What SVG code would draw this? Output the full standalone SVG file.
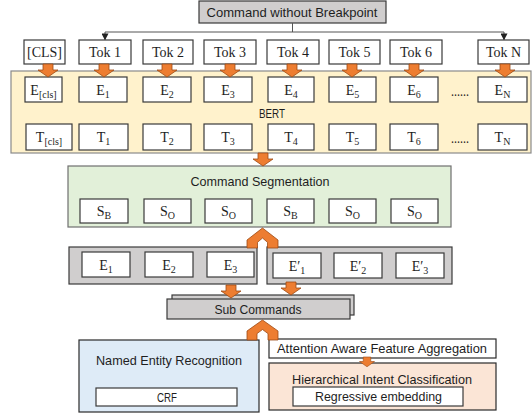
<svg xmlns="http://www.w3.org/2000/svg" xmlns:xlink="http://www.w3.org/1999/xlink" width="532" height="414" viewBox="0 0 532 414">
  <style>
    .sans { font-family: "Liberation Sans", Arial, sans-serif; font-size: 13.5px; fill: #1e1e1e; text-anchor: middle; }
    .serif { font-family: "Liberation Serif", "Times New Roman", serif; font-size: 14px; fill: #1e1e1e; text-anchor: middle; }
    .sub { font-size: 10px; }
    .tok { fill: #ffffff; stroke: #3a3a3a; stroke-width: 1.2; }
    .emb { fill: #ffffff; stroke: #3a3a3a; stroke-width: 1.2; }
    .grey { fill: #d0cece; stroke: #3a3a3a; stroke-width: 1.2; }
    .block { fill: #ed7d31; stroke: #9c4a14; stroke-width: 0.8; stroke-linejoin: miter; }
    .thin { fill: none; stroke: #555555; stroke-width: 1; }
  </style>
  <defs>
    <!-- downward block arrow, tip at (0,13) -->
    <path id="dArrow" d="M-5,0 H5 V6 H10 L0,13 L-10,6 H-5 Z"/>
    <marker id="tri" viewBox="0 0 8 8" refX="7" refY="4" markerWidth="7" markerHeight="7" orient="auto">
      <path d="M0,0 L8,4 L0,8 Z" fill="#222222"/>
    </marker>
  </defs>

  <!-- input command -->
  <g id="command">
    <rect x="199" y="1" width="187" height="22" fill="#d0cece" stroke="#3a3a3a" stroke-width="1.2"/>
    <text class="sans" x="292" y="16.5" textLength="171" lengthAdjust="spacingAndGlyphs">Command without Breakpoint</text>
  </g>

  <!-- BERT container -->
  <g id="bert">
    <rect x="11" y="71" width="520" height="82" fill="#fff2cc" stroke="#8a8a8a" stroke-width="1.2"/>
    <text class="sans" x="272" y="117.5" textLength="26" lengthAdjust="spacingAndGlyphs">BERT</text>
  </g>

  <!-- token row -->
  <g id="tokens">
    <g id="tok-cls"><rect class="tok" x="24" y="40" width="41" height="24"/><text class="serif" x="44.5" y="57">[CLS]</text></g>
    <g id="tok-1"><rect class="tok" x="79" y="40" width="52" height="24"/><text class="serif" x="105" y="57">Tok 1</text></g>
    <g id="tok-2"><rect class="tok" x="143" y="40" width="50" height="24"/><text class="serif" x="168" y="57">Tok 2</text></g>
    <g id="tok-3"><rect class="tok" x="204" y="40" width="52" height="24"/><text class="serif" x="230" y="57">Tok 3</text></g>
    <g id="tok-4"><rect class="tok" x="267" y="40" width="52" height="24"/><text class="serif" x="293" y="57">Tok 4</text></g>
    <g id="tok-5"><rect class="tok" x="329" y="40" width="51" height="24"/><text class="serif" x="354.5" y="57">Tok 5</text></g>
    <g id="tok-6"><rect class="tok" x="390" y="40" width="52" height="24"/><text class="serif" x="416" y="57">Tok 6</text></g>
    <g id="tok-n"><rect class="tok" x="478" y="40" width="51" height="24"/><text class="serif" x="503.5" y="57">Tok N</text></g>
  </g>

  <!-- input embeddings -->
  <g id="embeddings">
    <g id="e-cls"><rect class="emb" x="25" y="77" width="37" height="25"/><text class="serif" x="43.5" y="95">E<tspan class="sub" dy="3">[cls]</tspan></text></g>
    <g id="e-1"><rect class="emb" x="79" y="77" width="48" height="25"/><text class="serif" x="103" y="95">E<tspan class="sub" dy="3">1</tspan></text></g>
    <g id="e-2"><rect class="emb" x="143" y="77" width="48" height="25"/><text class="serif" x="167" y="95">E<tspan class="sub" dy="3">2</tspan></text></g>
    <g id="e-3"><rect class="emb" x="204" y="77" width="48" height="25"/><text class="serif" x="228" y="95">E<tspan class="sub" dy="3">3</tspan></text></g>
    <g id="e-4"><rect class="emb" x="268" y="77" width="46" height="25"/><text class="serif" x="291" y="95">E<tspan class="sub" dy="3">4</tspan></text></g>
    <g id="e-5"><rect class="emb" x="329" y="77" width="47" height="25"/><text class="serif" x="352.5" y="95">E<tspan class="sub" dy="3">5</tspan></text></g>
    <g id="e-6"><rect class="emb" x="390" y="77" width="48" height="25"/><text class="serif" x="414" y="95">E<tspan class="sub" dy="3">6</tspan></text></g>
    <text class="serif" x="460" y="96" textLength="18" lengthAdjust="spacingAndGlyphs">......</text>
    <g id="e-n"><rect class="emb" x="478" y="77" width="49" height="25"/><text class="serif" x="502.5" y="95">E<tspan class="sub" dy="3">N</tspan></text></g>
  </g>

  <!-- contextual outputs -->
  <g id="outputs">
    <g id="t-cls"><rect class="emb" x="26" y="124" width="46" height="26"/><text class="serif" x="49" y="142">T<tspan class="sub" dy="3">[cls]</tspan></text></g>
    <g id="t-1"><rect class="emb" x="79" y="124" width="49" height="26"/><text class="serif" x="103.5" y="142">T<tspan class="sub" dy="3">1</tspan></text></g>
    <g id="t-2"><rect class="emb" x="143" y="124" width="48" height="26"/><text class="serif" x="167" y="142">T<tspan class="sub" dy="3">2</tspan></text></g>
    <g id="t-3"><rect class="emb" x="204" y="124" width="48" height="26"/><text class="serif" x="228" y="142">T<tspan class="sub" dy="3">3</tspan></text></g>
    <g id="t-4"><rect class="emb" x="268" y="124" width="46" height="26"/><text class="serif" x="291" y="142">T<tspan class="sub" dy="3">4</tspan></text></g>
    <g id="t-5"><rect class="emb" x="329" y="124" width="47" height="26"/><text class="serif" x="352.5" y="142">T<tspan class="sub" dy="3">5</tspan></text></g>
    <g id="t-6"><rect class="emb" x="390" y="124" width="48" height="26"/><text class="serif" x="414" y="142">T<tspan class="sub" dy="3">6</tspan></text></g>
    <text class="serif" x="460" y="143" textLength="18" lengthAdjust="spacingAndGlyphs">......</text>
    <g id="t-n"><rect class="emb" x="478" y="124" width="49" height="26"/><text class="serif" x="502.5" y="142">T<tspan class="sub" dy="3">N</tspan></text></g>
  </g>

  <!-- segmentation -->
  <g id="segmentation">
    <rect x="68" y="166" width="383" height="61" fill="#e2f0d9" stroke="#6f6f6f" stroke-width="1.2"/>
    <text class="sans" x="260" y="185.5" textLength="139" lengthAdjust="spacingAndGlyphs">Command Segmentation</text>
    <g id="s-1"><rect class="emb" x="80" y="199" width="48" height="24"/><text class="serif" x="104" y="216">S<tspan class="sub" dy="3">B</tspan></text></g>
    <g id="s-2"><rect class="emb" x="144" y="199" width="47" height="24"/><text class="serif" x="167.5" y="216">S<tspan class="sub" dy="3">O</tspan></text></g>
    <g id="s-3"><rect class="emb" x="205" y="199" width="47" height="24"/><text class="serif" x="228.5" y="216">S<tspan class="sub" dy="3">O</tspan></text></g>
    <g id="s-4"><rect class="emb" x="267" y="199" width="47" height="24"/><text class="serif" x="290.5" y="216">S<tspan class="sub" dy="3">B</tspan></text></g>
    <g id="s-5"><rect class="emb" x="329" y="199" width="47" height="24"/><text class="serif" x="352.5" y="216">S<tspan class="sub" dy="3">O</tspan></text></g>
    <g id="s-6"><rect class="emb" x="391" y="199" width="47" height="24"/><text class="serif" x="414.5" y="216">S<tspan class="sub" dy="3">O</tspan></text></g>
  </g>

  <!-- first sub command -->
  <g id="sub-a">
    <rect class="grey" x="69" y="247" width="188" height="37"/>
    <g><rect class="emb" x="82" y="252" width="48" height="25"/><text class="serif" x="106" y="270">E<tspan class="sub" dy="3">1</tspan></text></g>
    <g><rect class="emb" x="145" y="252" width="48" height="25"/><text class="serif" x="169" y="270">E<tspan class="sub" dy="3">2</tspan></text></g>
    <g><rect class="emb" x="207" y="252" width="47" height="25"/><text class="serif" x="230.5" y="270">E<tspan class="sub" dy="3">3</tspan></text></g>
  </g>

  <!-- second sub command -->
  <g id="sub-b">
    <rect class="grey" x="267" y="247" width="185" height="37"/>
    <g><rect class="emb" x="273" y="253" width="48" height="25"/><text class="serif" x="297" y="271">E′<tspan class="sub" dy="3">1</tspan></text></g>
    <g><rect class="emb" x="334" y="253" width="48" height="25"/><text class="serif" x="358" y="271">E′<tspan class="sub" dy="3">2</tspan></text></g>
    <g><rect class="emb" x="396" y="253" width="48" height="25"/><text class="serif" x="420" y="271">E′<tspan class="sub" dy="3">3</tspan></text></g>
  </g>

  <!-- collected sub commands -->
  <g id="sub-commands">
    <rect class="grey" x="172" y="295" width="182" height="20"/>
    <rect class="grey" x="167" y="299" width="183" height="20"/>
    <text class="sans" x="258" y="314" textLength="87" lengthAdjust="spacingAndGlyphs">Sub Commands</text>
  </g>

  <!-- entity recognition -->
  <g id="ner">
    <rect x="79" y="340" width="180" height="72" fill="#deebf7" stroke="#2a2a2a" stroke-width="1.2"/>
    <text class="sans" x="169" y="364.5" textLength="146" lengthAdjust="spacingAndGlyphs">Named Entity Recognition</text>
    <rect class="emb" x="96" y="388" width="141" height="18"/>
    <text class="sans" x="167" y="401.5" textLength="20" lengthAdjust="spacingAndGlyphs">CRF</text>
  </g>

  <!-- feature aggregation -->
  <g id="aggregation">
    <rect x="269" y="339" width="227" height="19" fill="#ffffff" stroke="#2a2a2a" stroke-width="1.2"/>
    <text class="sans" x="382" y="353" textLength="210" lengthAdjust="spacingAndGlyphs">Attention Aware Feature Aggregation</text>
  </g>

  <!-- intent classification -->
  <g id="intent">
    <rect x="269" y="363" width="227" height="47" fill="#fbe5d6" stroke="#2a2a2a" stroke-width="1.2"/>
    <text class="sans" x="382" y="383.5" textLength="180" lengthAdjust="spacingAndGlyphs">Hierarchical Intent Classification</text>
    <rect class="emb" x="293" y="387" width="170" height="19"/>
    <text class="sans" x="378.5" y="401" textLength="127" lengthAdjust="spacingAndGlyphs">Regressive embedding</text>
  </g>

  <!-- connectors -->
  <g id="connectors">
    <polyline class="thin" points="292.5,23 292.5,32"/>
    <polyline class="thin" points="105,32 504,32"/>
    <line class="thin" x1="105" y1="32" x2="105" y2="39.5" marker-end="url(#tri)"/>
    <line class="thin" x1="504" y1="32" x2="504" y2="39.5" marker-end="url(#tri)"/>

    <use href="#dArrow" class="block" x="48" y="64"/>
    <use href="#dArrow" class="block" x="104" y="64"/>
    <use href="#dArrow" class="block" x="167" y="64"/>
    <use href="#dArrow" class="block" x="230" y="64"/>
    <use href="#dArrow" class="block" x="292" y="64"/>
    <use href="#dArrow" class="block" x="352" y="64"/>
    <use href="#dArrow" class="block" x="414" y="64"/>
    <use href="#dArrow" class="block" x="505" y="64"/>

    <use href="#dArrow" class="block" x="263" y="153"/>

    <polygon class="block" points="262.5,228 278,240 278,248 267.5,248 267.5,242.3 262.5,238 257.5,242.3 257.5,248 247,248 247,240"/>

    <use href="#dArrow" class="block" x="231" y="285"/>
    <use href="#dArrow" class="block" x="291" y="282"/>

    <polygon class="block" points="262.5,320 278,331 278,340 268,340 268,333.6 262.5,329.5 257,333.6 257,340 247,340 247,331"/>

    <use href="#dArrow" class="block" transform="translate(367,357) scale(0.75)"/>
  </g>
</svg>
